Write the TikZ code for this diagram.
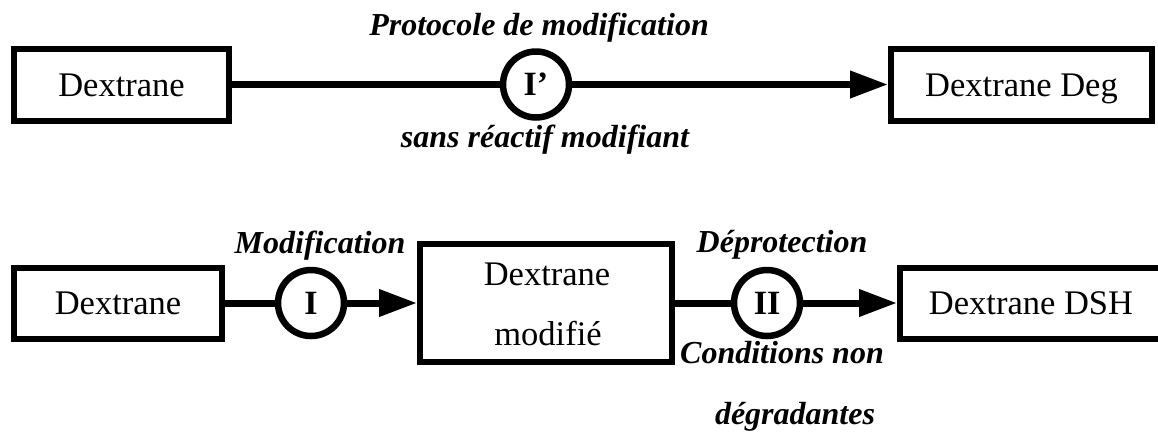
\documentclass[tikz,border=0pt]{standalone}
\usepackage{fontspec}
\setmainfont{Liberation Serif}
\usetikzlibrary{arrows.meta}
\begin{document}
\begin{tikzpicture}[x=1pt,y=-1pt,
  box/.style={draw, line width=6pt, inner sep=0pt, font=\fontsize{34.5}{40}\selectfont, text height=23pt, text depth=0pt},
  plainbox/.style={draw, line width=6pt, inner sep=0pt},
  boxtxt/.style={anchor=base, inner sep=0pt, font=\fontsize{34.5}{40}\selectfont},
  proc/.style={draw, circle, line width=6.5pt, minimum size=66pt, inner sep=0pt, font=\fontsize{34}{40}\selectfont\bfseries, text height=22pt, text depth=0pt},
  lab/.style={anchor=base, inner sep=0pt, font=\fontsize{32}{38}\selectfont\bfseries\itshape},
  conn/.style={line width=7pt},
  arr/.style={conn, -{Triangle[length=38pt,width=26pt]}}
]
\useasboundingbox (0,0) rectangle (1158,432);
% top row
\node[box, minimum width=215pt, minimum height=72pt] (a1) at (121.5,84.5) {Dextrane};
\node[proc] (c1) at (536,84.5) {I'};
\node[box, minimum width=261pt, minimum height=72pt] (d1) at (1021.5,84.5) {Dextrane Deg};
\node[lab] (t1) at (539,35) {Protocole de modification};
\node[lab] (t2) at (545,147) {sans réactif modifiant};
\draw[conn] (a1) -- (c1);
\draw[arr] (c1) -- (d1);
% bottom row
\node[box, minimum width=208pt, minimum height=71pt] (a2) at (118,303) {Dextrane};
\node[proc] (c2) at (311,303) {I};
\node[plainbox, minimum width=252pt, minimum height=118pt] (m) at (546,303) {};
\node[boxtxt] (m1) at (547,285) {Dextrane};
\node[boxtxt] (m2) at (548,345) {modifié};
\node[proc] (c3) at (767,303) {II};
\node[box, minimum width=262pt, minimum height=71pt] (d2) at (1031,303) {Dextrane DSH};
\node[lab] (t3) at (320,253) {Modification};
\node[lab] (t4) at (782,252) {Déprotection};
\node[lab] (t5) at (782,363) {Conditions non};
\node[lab] (t6) at (795,424) {dégradantes};
\draw[conn] (a2) -- (c2);
\draw[arr] (c2) -- (m);
\draw[conn] (m) -- (c3);
\draw[arr] (c3) -- (d2);
\end{tikzpicture}
\end{document}
